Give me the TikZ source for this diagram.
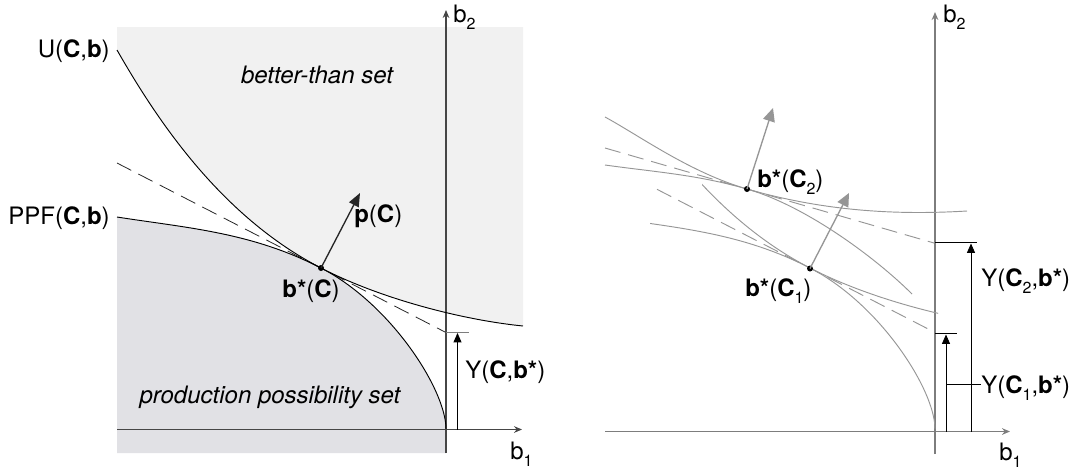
\documentclass[tikz,border=0pt]{standalone}
\usepackage{fontspec}
\setmainfont{TeX Gyre Heros}
\usetikzlibrary{arrows.meta}
\newcommand{\mysub}[1]{\raisebox{-0.55ex}{\fontsize{12}{12}\selectfont #1}}
\definecolor{lightset}{RGB}{241,241,241}
\definecolor{ppsset}{RGB}{225,225,229}
\definecolor{axdark}{RGB}{70,70,70}
\definecolor{axgray}{RGB}{125,125,125}
\definecolor{cgray}{RGB}{150,150,150}
\tikzset{
  lbl/.style={font=\fontsize{18}{20}\selectfont, inner sep=0pt},
  axisL/.style={draw=axdark, line width=0.8pt, -{Stealth[length=6pt,width=5pt]}},
  axisR/.style={draw=axgray, line width=1.1pt, -{Stealth[length=6pt,width=5pt]}},
  curveL/.style={draw=black, line width=0.7pt},
  curveR/.style={draw=cgray, line width=0.7pt},
  dashL/.style={draw=black!85, line width=0.6pt, dash pattern=on 12pt off 6pt},
  dashR/.style={draw=cgray, line width=0.7pt, dash pattern=on 12pt off 6pt},
  normL/.style={draw=black!85, line width=1pt, -{Triangle[length=10pt,width=8pt]}},
  normR/.style={draw=cgray, line width=1pt, {-Triangle[length=10pt,width=9pt]}, fill=cgray},
  yarrow/.style={draw=black, line width=0.6pt, -{Triangle[length=7pt,width=6pt]}},
  tickL/.style={draw=axgray, line width=0.8pt},
  tickR/.style={draw=black, line width=0.8pt},
  dot/.style={circle, fill=black, inner sep=0pt, minimum size=4.5pt},
}
\begin{document}
\begin{tikzpicture}[x=0.75pt,y=-0.75pt]
\useasboundingbox (0,0) rectangle (1078,472);

% ---------------- left panel ----------------
\fill[lightset] (117,27) -- (117,50) .. controls (157,120) and (221,216.5) .. (321,268)
  .. controls (381,299) and (463,320) .. (523,326) -- (523,27) -- cycle;
\fill[ppsset] (117,217) .. controls (187,228) and (251,232) .. (321,268)
  .. controls (391,304) and (446,390) .. (446,429) -- (446,453) -- (117,453) -- cycle;

\node[lbl] (better) at (317,75) {\itshape better-than set};
\node[lbl] (pps) at (270,397) {\itshape production possibility set};

\coordinate (vL0) at (446,453);
\coordinate (vL1) at (446,10);
\coordinate (hL0) at (117,429.5);
\coordinate (hL1) at (522,429.5);
\draw[axisL] (vL0) -- (vL1);
\draw[axisL] (hL0) -- (hL1);
\node[lbl, anchor=west] (b2L) at (453,17) {b\mysub{2}};
\node[lbl, anchor=west] (b1L) at (510,454) {b\mysub{1}};

\coordinate (dL0) at (117,163);
\coordinate (dL1) at (445,332);
\draw[dashL] (dL0) -- (dL1);

\coordinate (U0) at (117,50);
\coordinate (U1) at (523,326);
\coordinate (P0) at (117,217);
\coordinate (P1) at (446,429);
\draw[curveL] (U0) .. controls (157,120) and (221,216.5) .. (321,268)
  .. controls (381,299) and (463,320) .. (U1);
\draw[curveL] (P0) .. controls (187,228) and (251,232) .. (321,268)
  .. controls (391,304) and (446,390) .. (P1);

\node[dot] (bs) at (321,268) {};
\coordinate (ptip) at (360,193);
\draw[normL] (bs.center) -- (ptip);

\node[lbl, anchor=east] (lU) at (110,51) {U(\textbf{C},\textbf{b})};
\node[lbl, anchor=east] (lPPF) at (110,218) {PPF(\textbf{C},\textbf{b})};
\node[lbl, anchor=west] (lp) at (354,216) {\textbf{p}(\textbf{C})};
\node[lbl] (lbs) at (311,291) {\textbf{b*}(\textbf{C})};

\coordinate (tkL0) at (446,332.5);
\coordinate (tkL1) at (469,332.5);
\draw[tickL] (tkL0) -- (tkL1);
\coordinate (yaL0) at (457.5,429.5);
\coordinate (yaL1) at (457.5,333);
\draw[yarrow] (yaL0) -- (yaL1);
\node[lbl, anchor=west] (lY) at (465,372) {Y(\textbf{C},\textbf{b*})};

% ---------------- right panel ----------------
\coordinate (vR0) at (935,454);
\coordinate (vR1) at (935,12);
\coordinate (hR0) at (605,431.5);
\coordinate (hR1) at (1010,431.5);
\draw[axisR] (vR0) -- (vR1);
\draw[axisR] (hR0) -- (hR1);
\node[lbl, anchor=west] (b2R) at (943,17) {b\mysub{2}};
\node[lbl, anchor=west] (b1R) at (999,455) {b\mysub{1}};

% C2 curves
\coordinate (U2a) at (605,117);
\coordinate (U2b) at (967,211);
\coordinate (P2a) at (605,165);
\coordinate (P2b) at (912,294);
\coordinate (d2a) at (605,148);
\coordinate (d2b) at (934,243);
\draw[curveR] (U2a) .. controls (640,136) and (690,172.5) .. (747,189)
  .. controls (827,212) and (900,215) .. (U2b);
\draw[curveR] (P2a) .. controls (655,172) and (697,174.6) .. (747,189)
  .. controls (807,206.3) and (877,259) .. (P2b);
\draw[dashR] (d2a) -- (d2b);

% C1 curves (same as left panel, shifted)
\begin{scope}
  \clip (702,0) rectangle (938,472);
  \draw[curveR, shift={(489,0)}] (117,50) .. controls (157,120) and (221,216.5) .. (321,268)
    .. controls (381,299) and (463,320) .. (523,326);
\end{scope}
\begin{scope}
  \clip (650,0) rectangle (940,472);
  \draw[curveR, shift={(489,0)}] (117,217) .. controls (187,228) and (251,232) .. (321,268)
    .. controls (391,304) and (446,390) .. (446,429);
\end{scope}
\coordinate (d1a) at (657,189.3);
\coordinate (d1b) at (934,332);
\draw[dashR] (d1a) -- (d1b);

\node[dot] (bs2) at (747,189) {};
\node[dot] (bs1) at (810,268.5) {};
\coordinate (n2tip) at (773,108);
\coordinate (n1tip) at (849,193);
\draw[normR] (bs2.center) -- (n2tip);
\draw[normR] (bs1.center) -- (n1tip);

\node[lbl, anchor=west] (lbs2) at (757,182) {\textbf{b*}(\textbf{C}\mysub{2})};
\node[lbl, anchor=west] (lbs1) at (745,291) {\textbf{b*}(\textbf{C}\mysub{1})};

\coordinate (tk2a) at (935,242.7);
\coordinate (tk2b) at (977,242.7);
\draw[tickR] (tk2a) -- (tk2b);
\coordinate (tk1a) at (935,333.7);
\coordinate (tk1b) at (957,333.7);
\draw[tickR] (tk1a) -- (tk1b);
\coordinate (ya2a) at (971,431.5);
\coordinate (ya2b) at (971,243.5);
\draw[yarrow] (ya2a) -- (ya2b);
\coordinate (ya1a) at (946,431.5);
\coordinate (ya1b) at (946,334.5);
\draw[yarrow] (ya1a) -- (ya1b);

\node[lbl, anchor=west] (lY2) at (981,281) {Y(\textbf{C}\mysub{2},\textbf{b*})};
\node[lbl, anchor=west] (lY1) at (981,388) {Y(\textbf{C}\mysub{1},\textbf{b*})};
\coordinate (lead) at (946,384);
\draw[tickR, line width=0.6pt] (lead) -- (lY1.west |- lead);
\end{tikzpicture}
\end{document}
